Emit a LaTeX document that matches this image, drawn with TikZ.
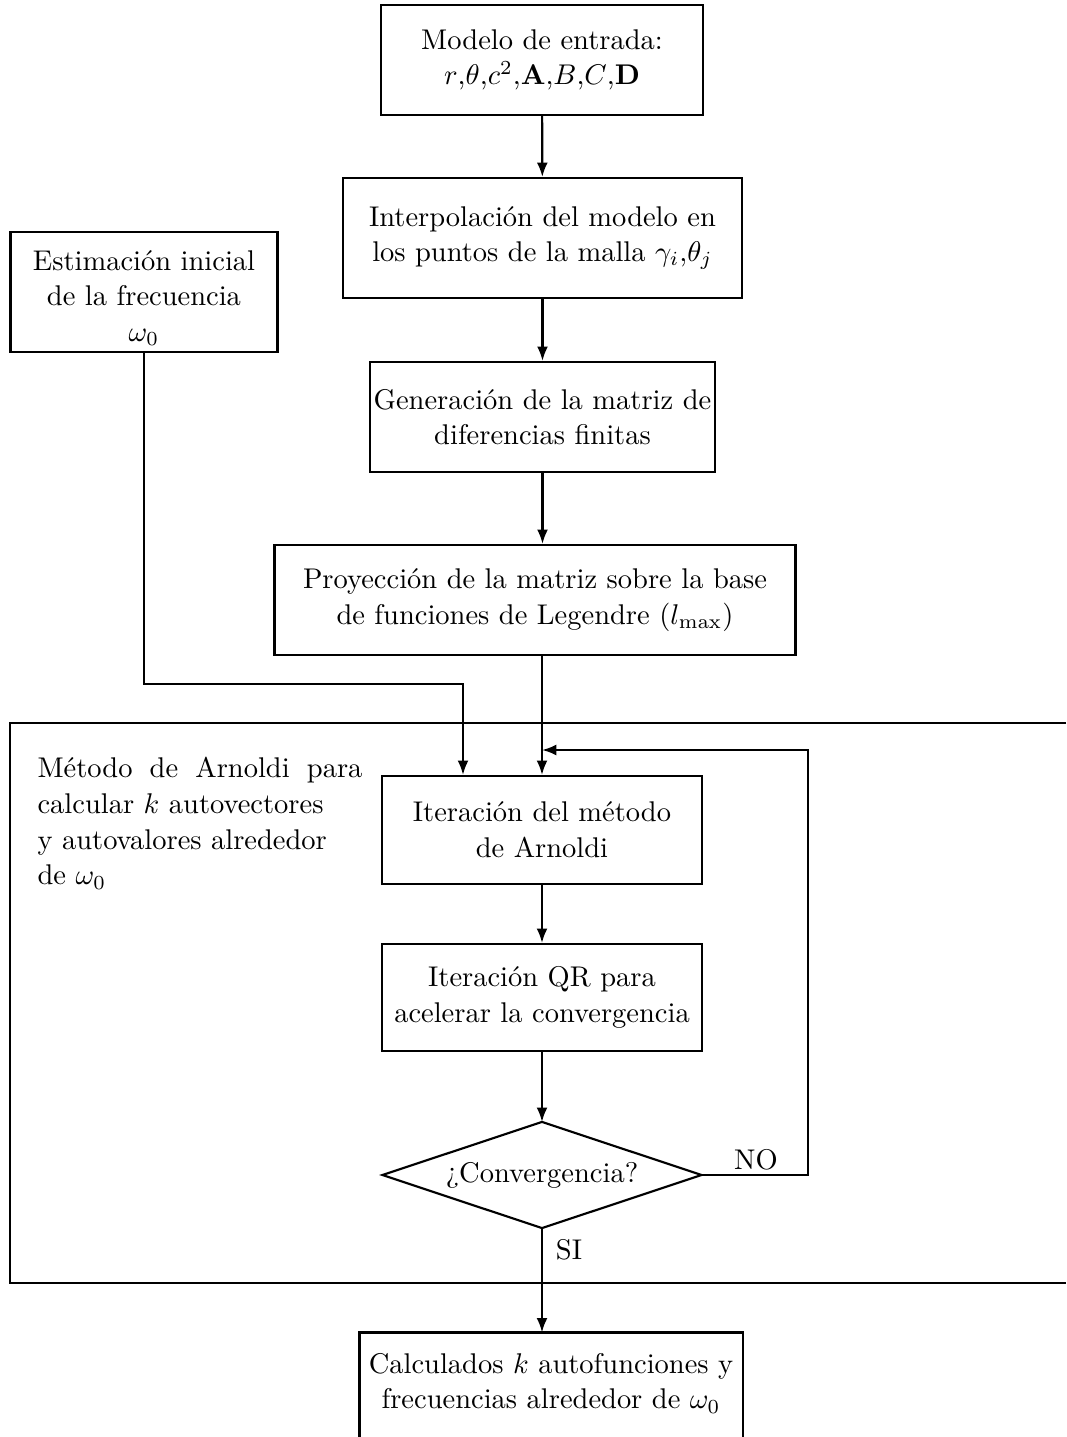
\documentclass[tikz,border=0pt]{standalone}
\usetikzlibrary{shapes.geometric,arrows.meta}
\newcommand{\pxu}{0.3509pt}
\begin{document}
\begin{tikzpicture}[x=0.3509pt,y=-0.3509pt,
  every node/.style={font=\fontsize{10pt}{12.5pt}\selectfont},
  box/.style={draw,line width=0.75pt,align=center,inner sep=0pt},
  arr/.style={-{Latex[length=5pt,width=3.8pt]},line width=0.75pt},
  ln/.style={line width=0.75pt}]
\useasboundingbox (0,0) rectangle (1066,1437);
% frame
\draw[ln] (1066,723) -- (10,723) -- (10,1283) -- (1066,1283);
\node[box,minimum width=322*\pxu,minimum height=110*\pxu] (m1) at (542,60)
  {Modelo de entrada:\\ $r$,$\theta$,$c^2$,$\mathbf{A}$,$B$,$C$,$\mathbf{D}$};
\node[box,minimum width=399*\pxu,minimum height=120*\pxu] (m2) at (542.5,238)
  {Interpolación del modelo en\\ los puntos de la malla $\gamma_i$,$\theta_j$};
\node[box,minimum width=267*\pxu,minimum height=120*\pxu] (m3) at (144,292) {};
\node[align=center,inner sep=0pt] (m3t) at (144,298)
  {Estimación inicial\\ de la frecuencia\\ $\omega_0$};
\node[box,minimum width=345*\pxu,minimum height=110*\pxu] (m4) at (542.5,417)
  {Generación de la matriz de\\ diferencias finitas};
\node[box,minimum width=521*\pxu,minimum height=110*\pxu] (m5) at (535,600)
  {Proyección de la matriz sobre la base\\ de funciones de Legendre ($l_{\max}$)};
\node[box,minimum width=320*\pxu,minimum height=108*\pxu] (m6) at (542,830)
  {Iteración del método\\ de Arnoldi};
\node[box,minimum width=320*\pxu,minimum height=107*\pxu] (m7) at (542,997.5)
  {Iteración QR para\\ acelerar la convergencia};
\node[inner sep=0pt,minimum width=318*\pxu,minimum height=105*\pxu] (d) at (542,1175)
  {¿Convergencia?};
\draw[ln] (d.north) -- (d.east) -- (d.south) -- (d.west) -- cycle;
\node[align=center,inner sep=0pt,minimum width=382*\pxu,minimum height=100*\pxu] (m8) at (551,1383)
  {Calculados $k$ autofunciones y\\ frecuencias alrededor de $\omega_0$};
\draw[ln] (m8.north west |- 0,1445) -- (m8.north west) -- (m8.north east) -- (m8.north east |- 0,1445);
\node[anchor=north west,align=left,inner sep=0pt] (t) at (37,757)
  {\makebox[114pt][s]{Método de Arnoldi para}\\ calcular $k$ autovectores\\ y autovalores alrededor\\ de $\omega_0$};
\node (no) at (756,1160) {NO};
\node (si) at (569,1250) {SI};
\coordinate (j1) at (463,684);
\coordinate (fbx) at (808,1175);
\coordinate (fb) at (542,750);
\draw[arr] (m1) -- (m2);
\draw[arr] (m2) -- (m4);
\draw[arr] (m4.south) -- (m4.south |- m5.north);
\draw[arr] (m5.south -| m6.north) -- (m6.north);
\draw[arr] (m3.south) |- (j1) -- (j1 |- m6.north);
\draw[arr] (m6) -- (m7);
\draw[arr] (m7) -- (d);
\draw[arr] (d.east) -- (fbx) |- (fb);
\draw[arr] (d.south) -- (d.south |- m8.north);
\end{tikzpicture}
\end{document}
